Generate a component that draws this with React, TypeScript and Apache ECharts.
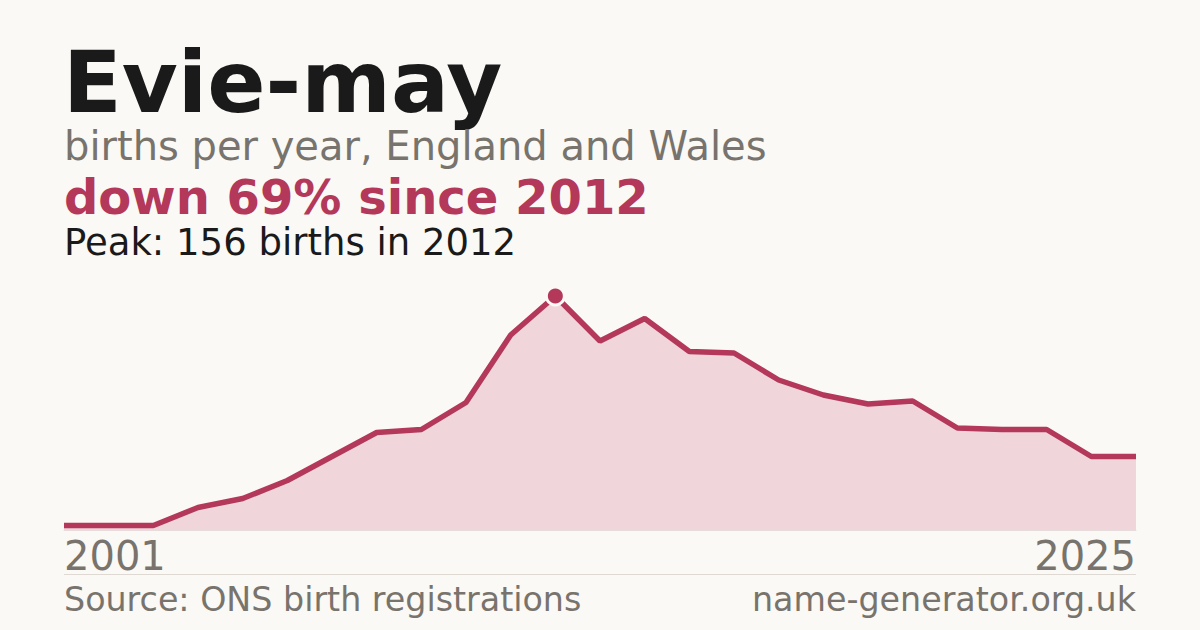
import React, { useEffect, useRef } from "react";
import * as echarts from "echarts";

const years: string[] = [
  "2001", "2002", "2003", "2004", "2005", "2006", "2007", "2008", "2009", "2010",
  "2011", "2012", "2013", "2014", "2015", "2016", "2017", "2018", "2019", "2020",
  "2021", "2022", "2023", "2024", "2025",
];
const births: number[] = [
  3, 3, 3, 15, 21, 33, 49, 65, 67, 85,
  130, 156, 126, 141, 119, 118, 100, 90, 84, 86,
  68, 67, 67, 49, 49,
];

const titleText = "Evie-may";
const subtitleText = "births per year, England and Wales";
const changeText = "down 69% since 2012";
const peakText = "Peak: 156 births in 2012";
const sourceText = "Source: ONS birth registrations";
const siteText = "name-generator.org.uk";

const RED = "#b3385a";
const GRAY = "#78736c";
const DARK = "#1a1a1a";
const BG = "#faf9f5";
const FONT = "DejaVu Sans";

export default function App() {
  const ref = useRef<HTMLDivElement>(null);
  useEffect(() => {
    document.body.style.margin = "0";
    if (!ref.current) return;
    const chart = echarts.init(ref.current, undefined, { renderer: "svg" });
    const peak = Math.max(...births);
    const peakIdx = births.indexOf(peak);
    const peakData = births.map((v, i) => (i === peakIdx ? v : null));
    const last = years.length - 1;
    chart.setOption({
      animation: false,
      backgroundColor: BG,
      grid: { left: 64, right: 64, top: 296, bottom: 100 },
      xAxis: {
        type: "category",
        data: years,
        boundaryGap: false,
        axisLine: { show: true, lineStyle: { color: "#e6dcdc", width: 1 } },
        axisTick: { show: false },
        splitLine: { show: false },
        axisLabel: {
          interval: (i: number) => i === 0 || i === last,
          alignMinLabel: "left",
          alignMaxLabel: "right",
          color: GRAY,
          fontFamily: FONT,
          fontSize: 40,
          margin: 6,
        },
      },
      yAxis: { type: "value", min: 0, max: peak, show: false },
      title: [
        { text: titleText, left: 63, top: 42, padding: 0, textStyle: { fontFamily: FONT, fontWeight: "bold", fontSize: 86, lineHeight: 80, color: DARK } },
        { text: subtitleText, left: 64, top: 126, padding: 0, textStyle: { fontFamily: FONT, fontWeight: "normal", fontSize: 40, color: GRAY } },
        { text: changeText, left: 64, top: 174, padding: 0, textStyle: { fontFamily: FONT, fontWeight: "bold", fontSize: 48, lineHeight: 46, color: RED } },
        { text: peakText, left: 64, top: 224, padding: 0, textStyle: { fontFamily: FONT, fontWeight: "normal", fontSize: 37, color: DARK } },
      ],
      graphic: [
        { type: "line", shape: { x1: 64, y1: 574.5, x2: 1136, y2: 574.5 }, style: { stroke: "#dedad3", lineWidth: 1 } },
        { type: "text", left: 64, top: 583, style: { text: sourceText, fontFamily: FONT, fontSize: 33.3, fill: GRAY } },
        { type: "text", right: 64, top: 583, style: { text: siteText, fontFamily: FONT, fontSize: 33.3, fill: GRAY, textAlign: "right" } },
      ],
      series: [
        {
          type: "line",
          data: births,
          symbol: "none",
          lineStyle: { color: RED, width: 5.5 },
          areaStyle: { color: "#f0d5db", opacity: 1 },
          z: 2,
        },
        {
          type: "scatter",
          data: peakData,
          symbol: "circle",
          symbolSize: 18,
          itemStyle: { color: RED, borderColor: BG, borderWidth: 3, opacity: 1 },
          z: 3,
        },
      ],
    });
    return () => chart.dispose();
  }, []);
  return <div ref={ref} style={{ width: 1200, height: 630 }} />;
}
